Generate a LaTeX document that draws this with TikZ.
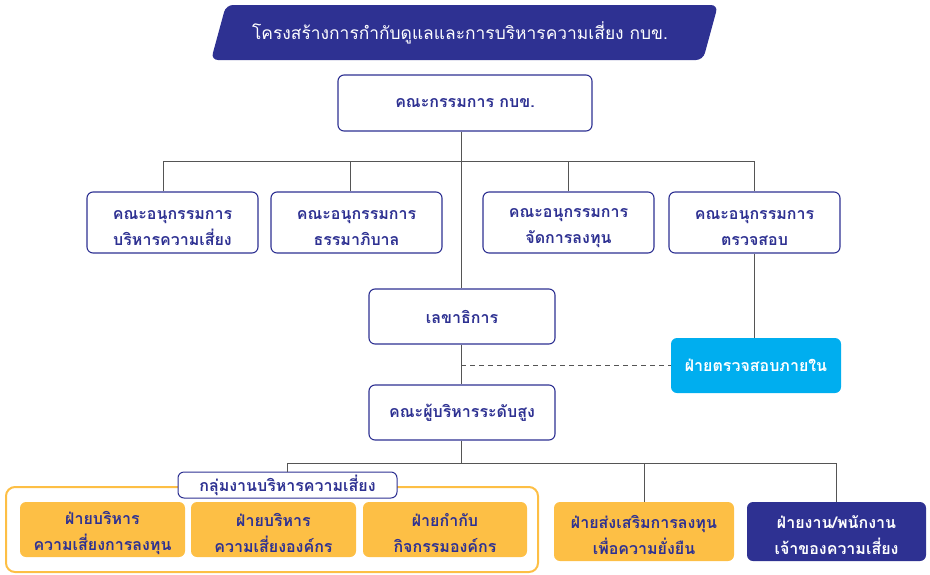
\documentclass[tikz,border=0pt]{standalone}
\usepackage{fontspec}
\newfontfamily\thai[Script=Thai]{Loma}
\definecolor{navy}{HTML}{2E3192}
\definecolor{cyanbox}{HTML}{00AEEF}
\definecolor{orangebox}{HTML}{FDBF45}
\definecolor{linegray}{HTML}{555555}
\newcommand\tstrut{\rule{0pt}{20pt}}
\tikzset{
  boxfont/.style={font=\thai\bfseries\fontsize{16}{26}\selectfont},
  wbox/.style={draw=navy, line width=1.1pt, fill=white, rounded corners=6pt, text=navy, boxfont, align=center, inner sep=0pt},
  obox/.style={fill=orangebox, rounded corners=6pt, text=navy, boxfont, align=center, inner sep=0pt},
  nbox/.style={fill=navy, rounded corners=6pt, text=white, boxfont, align=center, inner sep=0pt},
  cbox/.style={fill=cyanbox, rounded corners=6pt, text=white, boxfont, align=center, inner sep=0pt},
  conn/.style={draw=linegray, line width=0.9pt},
}
\begin{document}
\begin{tikzpicture}[x=1pt,y=-1pt]
\useasboundingbox (0,0) rectangle (930,574);
% title banner
\fill[navy, rounded corners=7pt] (226,5) -- (718,5) -- (703,60) -- (211,60) -- cycle;
\node[text=white, font=\thai\fontsize{17.4}{20}\selectfont] (title) at (460,33) {โครงสร้างการกำกับดูแลและการบริหารความเสี่ยง กบข.};
% nodes
\node[wbox, minimum width=254pt, minimum height=56pt] (top) at (465,103) {คณะกรรมการ กบข.};
\node[wbox, minimum width=171pt, minimum height=61pt] (b1) at (172.5,222.5) {\tstrut คณะอนุกรรมการ\\บริหารความเสี่ยง};
\node[wbox, minimum width=171pt, minimum height=61pt] (b2) at (356.5,222.5) {\tstrut คณะอนุกรรมการ\\ธรรมาภิบาล};
\node[wbox, minimum width=171pt, minimum height=61pt] (b3) at (568.5,222.5) {\tstrut คณะอนุกรรมการ\\จัดการลงทุน};
\node[wbox, minimum width=171pt, minimum height=61pt] (b4) at (754.5,222.5) {\tstrut คณะอนุกรรมการ\\ตรวจสอบ};
\node[wbox, minimum width=186pt, minimum height=55pt] (sec) at (462,316.5) {เลขาธิการ};
\node[cbox, minimum width=170pt, minimum height=55pt] (audit) at (756,365.5) {ฝ่ายตรวจสอบภายใน};
\node[wbox, minimum width=186pt, minimum height=55pt] (exe) at (462,412.5) {คณะผู้บริหารระดับสูง};
% group container
\draw[orangebox, line width=2pt, rounded corners=9pt] (6,487) rectangle (538,572);
\node[wbox, line width=1pt, minimum width=219pt, minimum height=26pt, font=\thai\bfseries\fontsize{16}{18}\selectfont] (grp) at (287.5,485) {กลุ่มงานบริหารความเสี่ยง};
\node[obox, minimum width=165pt, minimum height=55pt] (g1) at (102.5,529.5) {\tstrut ฝ่ายบริหาร\\ความเสี่ยงการลงทุน};
\node[obox, minimum width=165pt, minimum height=55pt] (g2) at (273.5,529.5) {\tstrut ฝ่ายบริหาร\\ความเสี่ยงองค์กร};
\node[obox, minimum width=164pt, minimum height=55pt] (g3) at (445,529.5) {\tstrut ฝ่ายกำกับ\\กิจกรรมองค์กร};
\node[obox, minimum width=180pt, minimum height=59pt] (sust) at (644,531.5) {\tstrut ฝ่ายส่งเสริมการลงทุน\\เพื่อความยั่งยืน};
\node[nbox, minimum width=179pt, minimum height=59pt] (own) at (836.5,531.5) {\tstrut ฝ่ายงาน/พนักงาน\\เจ้าของความเสี่ยง};
% junctions
\coordinate (j1) at (461,161);
\coordinate (j2) at (461,463);
% connectors
\draw[conn] (top.south -| j1) -- (sec.north -| j1);
\draw[conn] (sec.south -| j1) -- (exe.north -| j1);
\draw[conn] ([xshift=-9pt]b1.north) |- (b4.north |- j1) -- (b4.north);
\draw[conn] ([xshift=-6pt]b2.north) -- ([xshift=-6pt]b2.north |- j1);
\draw[conn] (b3.north) -- (b3.north |- j1);
\draw[conn] (b4.south) -- (b4.south |- audit.north);
\draw[conn, dash pattern=on 5pt off 4pt] (audit.west -| j1) -- (audit.west);
\draw[conn] (exe.south -| j1) -- (j2);
\draw[conn] (grp.north) -- (grp.north |- j2) -- (own.north |- j2) -- (own.north);
\draw[conn] (sust.north) -- (sust.north |- j2);
\end{tikzpicture}
\end{document}
